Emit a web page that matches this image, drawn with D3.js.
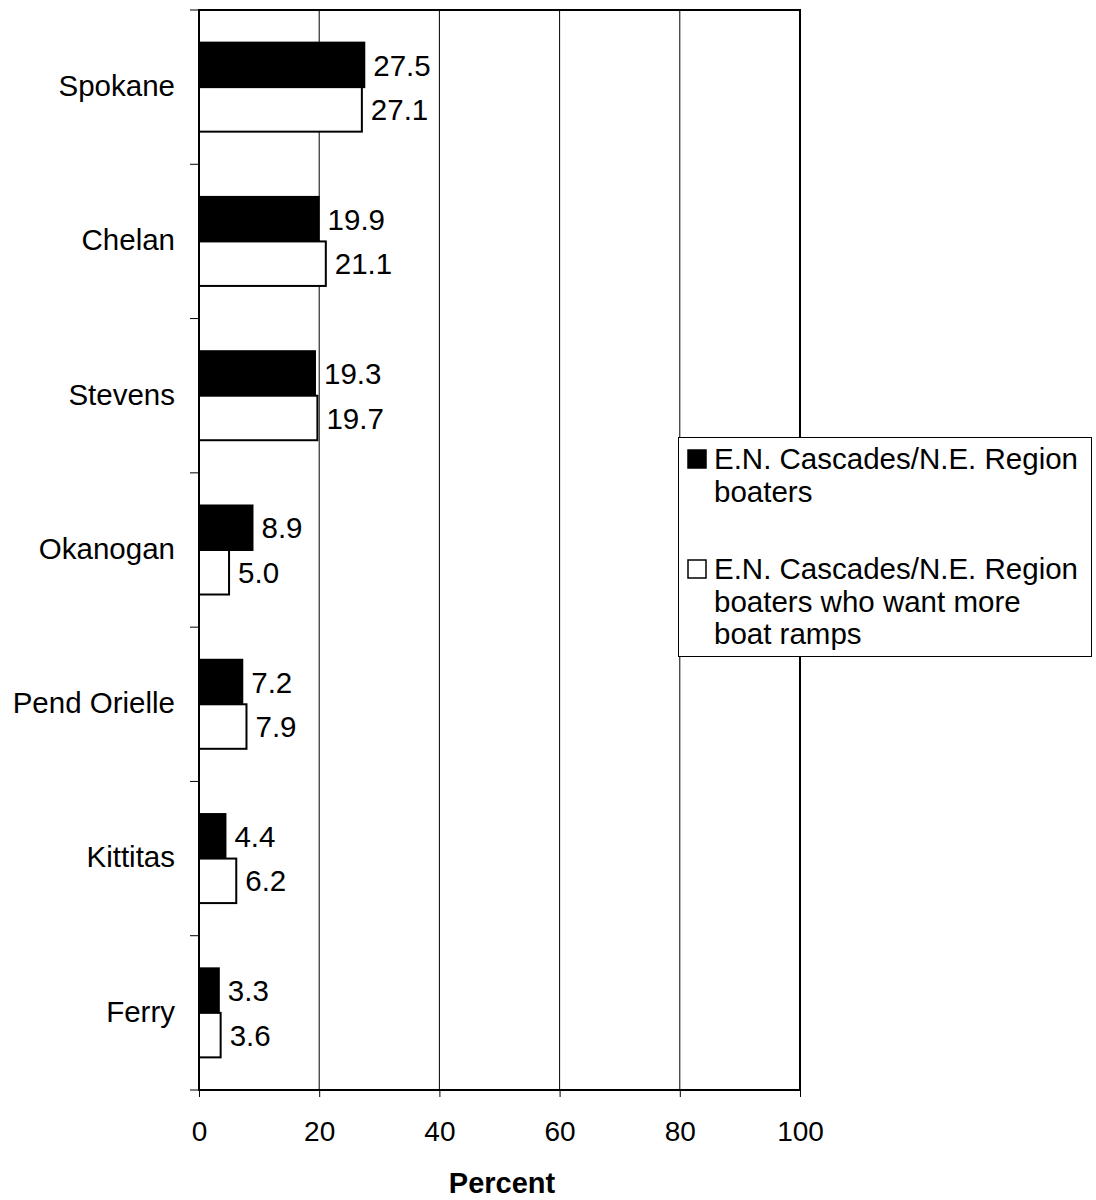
<!DOCTYPE html>
<html>
<head>
<meta charset="utf-8">
<script src="https://cdn.jsdelivr.net/npm/d3@7"></script>
<style>
  body { margin: 0; background: #fff; }
  text { font-family: Arial, "Liberation Sans", sans-serif; fill: #000; }
</style>
</head>
<body>
<svg id="chart" width="1096" height="1200"></svg>
<script>
const categories = ["Spokane", "Chelan", "Stevens", "Okanogan", "Pend Orielle", "Kittitas", "Ferry"];
const seriesNames = ["E.N. Cascades/N.E. Region boaters", "E.N. Cascades/N.E. Region boaters who want more boat ramps"];
const allBoaters = [27.5, 19.9, 19.3, 8.9, 7.2, 4.4, 3.3];
const wantRamps = [27.1, 21.1, 19.7, 5.0, 7.9, 6.2, 3.6];
const xTicks = [0, 20, 40, 60, 80, 100];
const legendLines = [["E.N. Cascades/N.E. Region", "boaters"], ["E.N. Cascades/N.E. Region", "boaters who want more", "boat ramps"]];

(function () {
const svg = d3.select("#chart");
const pL = 199, pR = 800, pT = 10, pB = 1090;
const FS = 29.5;

const x = d3.scaleLinear().domain([0, 100]).range([pL, pR]);
const y0 = d3.scaleBand().domain(categories).range([pT, pB]).paddingInner(0.423).paddingOuter(0.2115);
const y1 = d3.scaleBand().domain([0, 1]).range([0, y0.bandwidth()]);

const data = categories.map((c, i) => ({ cat: c, vals: [allBoaters[i], wantRamps[i]] }));

// gridlines
svg.append("g").selectAll("line").data(xTicks.filter(t => t > 0 && t < 100)).join("line")
  .attr("x1", d => x(d)).attr("x2", d => x(d)).attr("y1", pT).attr("y2", pB)
  .attr("stroke", "#000").attr("stroke-width", 1);

// bars
const g = svg.append("g").selectAll("g").data(data).join("g")
  .attr("transform", d => `translate(0,${y0(d.cat)})`);
g.selectAll("rect").data(d => d.vals.map((v, k) => ({ v, k }))).join("rect")
  .attr("x", x(0)).attr("y", d => y1(d.k))
  .attr("width", d => x(d.v) - x(0)).attr("height", y1.bandwidth())
  .attr("fill", d => d.k === 0 ? "#000" : "#fff")
  .attr("stroke", "#000").attr("stroke-width", 2);
g.selectAll("text").data(d => d.vals.map((v, k) => ({ v, k }))).join("text")
  .attr("x", d => x(d.v) + 9).attr("y", d => y1(d.k) + y1.bandwidth() / 2)
  .attr("dy", "0.36em").attr("font-size", FS)
  .text(d => d.v.toFixed(1));

// frame
svg.append("rect").attr("x", pL).attr("y", pT).attr("width", pR - pL).attr("height", pB - pT)
  .attr("fill", "none").attr("stroke", "#000").attr("stroke-width", 2);

// y ticks at band boundaries
const yBounds = categories.map(c => y0(c) - y0.step() * y0.paddingInner() / 2).concat([pB]);
svg.append("g").selectAll("line").data(yBounds).join("line")
  .attr("x1", pL - 9).attr("x2", pL).attr("y1", d => d).attr("y2", d => d)
  .attr("stroke", "#000").attr("stroke-width", 1);

// category labels
svg.append("g").selectAll("text").data(categories).join("text")
  .attr("x", 175).attr("y", d => y0(d) + y0.bandwidth() / 2)
  .attr("dy", "0.3em").attr("text-anchor", "end").attr("font-size", FS)
  .text(d => d);

// x axis
const xAxis = d3.axisBottom(x).tickValues(xTicks).tickSize(7).tickPadding(24).tickFormat(d3.format("d"));
const xa = svg.append("g").attr("transform", `translate(0,${pB})`).call(xAxis);
xa.select(".domain").remove();
xa.selectAll("line").attr("stroke", "#000");
xa.selectAll("text").attr("font-size", 28).attr("font-family", "Arial, 'Liberation Sans', sans-serif").attr("fill", "#000");

svg.append("text").attr("x", 502).attr("y", 1193)
  .attr("text-anchor", "middle").attr("font-size", 29).attr("font-weight", "bold").text("Percent");

// legend
const lg = svg.append("g");
lg.append("rect").attr("x", 678.5).attr("y", 437.5).attr("width", 413).attr("height", 219)
  .attr("fill", "#fff").attr("stroke", "#000").attr("stroke-width", 1);
const entryTop = [469, 579];
legendLines.forEach((lines, k) => {
  lg.append("rect").attr("x", 688).attr("y", entryTop[k] - 19).attr("width", 18).attr("height", 18)
    .attr("fill", k === 0 ? "#000" : "#fff").attr("stroke", "#000").attr("stroke-width", 1.5);
  const t = lg.append("text").attr("font-size", FS);
  lines.forEach((ln, j) => {
    t.append("tspan").attr("x", 714).attr("y", entryTop[k] + j * 32.5).text(ln);
  });
});
})();
</script>
</body>
</html>
